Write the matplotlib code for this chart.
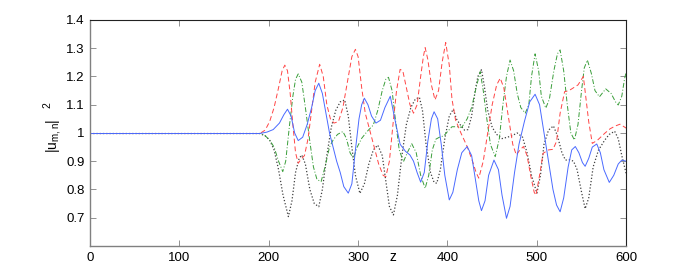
import matplotlib
matplotlib.use("Agg")
import matplotlib.pyplot as plt
from matplotlib.ticker import FormatStrFormatter
import numpy as np

plt.rcParams['font.family'] = ['Liberation Sans', 'DejaVu Sans']
plt.rcParams['mathtext.default'] = 'regular'

# values (z, |u|^2)
z_blue = [0, 190, 198, 205, 212, 217, 221, 225, 229, 233, 238, 243, 248, 252, 256, 260, 264, 268, 272, 276,
          280, 284, 289, 293, 297, 301, 304, 307, 311, 315, 320, 325, 330, 336, 341, 347, 353, 358, 362, 366,
          370, 374, 378, 382, 385, 389, 393, 397, 402, 406, 411, 416, 422, 427, 431, 435, 438, 442, 446, 452,
          457, 461, 466, 470, 475, 480, 486, 492, 498, 503, 508, 513, 518, 522, 526, 530, 535, 539, 543, 547,
          551, 554, 558, 562, 567, 571, 575, 581, 586, 591, 595, 600]
u_blue = [0.998, 0.998, 1.003, 1.012, 1.035, 1.065, 1.084, 1.06, 1.0, 0.973, 0.985, 1.03, 1.09, 1.15, 1.176, 1.14,
          1.07, 1.0, 0.95, 0.9, 0.86, 0.81, 0.787, 0.82, 0.94, 1.05, 1.1, 1.123, 1.1, 1.06, 1.035, 1.045, 1.09,
          1.13, 1.05, 0.96, 0.935, 0.922, 0.9, 0.86, 0.826, 0.86, 0.97, 1.05, 1.075, 1.05, 0.96, 0.85, 0.763,
          0.79, 0.87, 0.93, 0.952, 0.92, 0.84, 0.76, 0.725, 0.76, 0.85, 0.904, 0.87, 0.78, 0.698, 0.74, 0.86,
          0.96, 1.04, 1.11, 1.137, 1.1, 1.0, 0.9, 0.8, 0.745, 0.721, 0.77, 0.88, 0.94, 0.952, 0.93, 0.895,
          0.882, 0.91, 0.95, 0.961, 0.93, 0.87, 0.825, 0.85, 0.89, 0.904, 0.9]

z_red = [0, 190, 196, 201, 206, 211, 215, 218, 221, 224, 227, 230, 233, 237, 240, 244, 248, 252, 257, 261,
         265, 269, 273, 278, 283, 288, 293, 297, 300, 304, 308, 313, 318, 323, 328, 331, 335, 339, 343, 347,
         350, 354, 358, 362, 366, 370, 373, 375, 378, 382, 386, 390, 394, 398, 402, 405, 409, 415, 422, 428,
         432, 435, 440, 445, 450, 455, 459, 463, 468, 473, 477, 481, 485, 489, 493, 497, 499, 503, 507, 513,
         518, 522, 526, 531, 536, 541, 546, 552, 555, 558, 562, 568, 576, 582, 588, 593, 600]
u_red = [0.998, 0.998, 1.01, 1.04, 1.09, 1.16, 1.22, 1.24, 1.22, 1.14, 1.03, 0.93, 0.893, 0.91, 0.92, 0.98, 1.08,
         1.18, 1.243, 1.2, 1.1, 1.05, 1.035, 1.04, 1.09, 1.18, 1.27, 1.296, 1.27, 1.16, 1.07, 1.01, 0.95, 0.89,
         0.85, 0.845, 0.9, 1.03, 1.15, 1.225, 1.22, 1.16, 1.1, 1.07, 1.1, 1.2, 1.27, 1.302, 1.26, 1.17, 1.117,
         1.15, 1.25, 1.32, 1.24, 1.12, 1.046, 1.0, 0.952, 0.9, 0.86, 0.84, 0.9, 1.0, 1.1, 1.17, 1.194, 1.16,
         1.06, 0.96, 0.922, 0.94, 0.952, 0.92, 0.85, 0.79, 0.78, 0.85, 0.928, 0.94, 0.942, 0.97, 1.07, 1.146,
         1.15, 1.16, 1.17, 1.2, 1.12, 1.04, 0.963, 0.975, 0.999, 1.015, 1.025, 1.031, 1.017]

z_green = [0, 190, 196, 201, 206, 211, 215.7, 219, 223, 227, 230, 233, 237, 241, 246, 250, 254, 258.6, 263, 268,
           272, 277, 283, 287, 291, 294.7, 299, 304, 310, 317, 322, 327, 331, 334, 338, 342, 346, 350.7, 355,
           360, 365, 370, 375, 379, 383, 387, 391, 396, 400, 405, 411, 416, 422, 427, 432, 436.6, 440, 444, 448,
           453.4, 458, 462, 466, 470, 474, 478, 482, 487, 491, 494, 498, 502, 505, 510, 514, 519, 523, 526, 530,
           534, 538, 542, 546, 550, 553, 556.5, 561, 565, 570, 577, 583, 588, 591, 595, 598, 600]
u_green = [0.998, 0.998, 0.99, 0.975, 0.95, 0.9, 0.863, 0.9, 1.02, 1.13, 1.19, 1.209, 1.18, 1.09, 0.97, 0.88,
           0.835, 0.828, 0.88, 0.95, 0.975, 0.995, 1.005, 0.98, 0.93, 0.91, 0.95, 0.981, 1.005, 1.028, 1.08,
           1.15, 1.19, 1.197, 1.15, 1.04, 0.94, 0.898, 0.93, 0.962, 0.93, 0.85, 0.804, 0.85, 0.94, 0.978, 0.985,
           0.99, 1.005, 1.022, 1.022, 1.02, 1.05, 1.09, 1.16, 1.217, 1.15, 1.05, 0.96, 0.916, 0.98, 1.1, 1.2,
           1.258, 1.22, 1.14, 1.09, 1.07, 1.1, 1.2, 1.28, 1.22, 1.13, 1.088, 1.12, 1.22, 1.28, 1.294, 1.22,
           1.1, 1.0, 0.975, 1.03, 1.15, 1.23, 1.258, 1.21, 1.15, 1.128, 1.156, 1.14, 1.11, 1.099, 1.13, 1.19, 1.217]

z_black = [0, 190, 196, 201, 206, 211, 216, 222, 226, 230, 234, 237, 241, 246, 251, 256, 260, 265, 270, 275,
           280, 285, 289, 293, 297, 302, 307, 312, 317, 322, 327, 331, 335, 339.5, 344, 349, 354, 359, 364, 368.6,
           372, 376, 381, 385, 388, 392, 397, 402, 406.5, 410, 414, 419, 423, 427, 431, 434, 438, 441, 445, 450,
           455, 461, 467, 472, 478, 484, 489, 494, 500, 504, 508, 513, 518.5, 523, 528, 532, 537, 541, 545, 550,
           554, 558, 563, 569, 576, 581, 587, 591, 595, 600]
u_black = [0.998, 0.998, 0.99, 0.975, 0.94, 0.87, 0.78, 0.704, 0.76, 0.86, 0.91, 0.922, 0.89, 0.8, 0.75, 0.739,
           0.8, 0.92, 1.02, 1.08, 1.11, 1.117, 1.06, 0.95, 0.85, 0.786, 0.82, 0.89, 0.94, 0.957, 0.92, 0.83,
           0.74, 0.71, 0.78, 0.92, 1.03, 1.09, 1.12, 1.126, 1.08, 0.96, 0.86, 0.825, 0.822, 0.87, 0.98, 1.06,
           1.084, 1.05, 1.03, 1.01, 1.012, 1.06, 1.15, 1.2, 1.224, 1.17, 1.08, 1.02, 0.995, 0.98, 0.985, 0.99,
           1.0, 0.985, 0.93, 0.85, 0.787, 0.85, 0.96, 1.01, 1.025, 0.99, 0.93, 0.904, 0.905, 0.9, 0.87, 0.79,
           0.732, 0.77, 0.88, 0.94, 0.975, 0.995, 1.006, 0.98, 0.92, 0.855]

fig = plt.figure(figsize=(6.92, 2.77), dpi=100)
ax = fig.add_axes([0.130, 0.112, 0.775, 0.816])

ax.plot(z_black, u_black, color='#404040', linestyle=(0, (1, 1.6)), linewidth=0.9)
ax.plot(z_green, u_green, color='#3a9e3a', linestyle=(0, (5, 2, 1, 2)), linewidth=0.7)
ax.plot(z_red, u_red, color='#ff4545', linestyle=(0, (5, 3)), linewidth=0.7)
ax.plot(z_blue, u_blue, color='#4a6aff', linestyle='-', linewidth=0.7)

ax.set_xlim(0, 600)
ax.set_ylim(0.6, 1.4)
ax.set_xticks(np.arange(0, 601, 100))
ax.set_yticks(np.arange(0.7, 1.41, 0.1))
ax.yaxis.set_major_formatter(FormatStrFormatter('%g'))
ax.tick_params(direction='in', top=True, right=True, length=4, width=0.6,
               color='#808080', labelsize=9.5, pad=4)
for side in ['left', 'bottom']:
    ax.spines[side].set_linewidth(1.0)
    ax.spines[side].set_color('#808080')
for side in ['top', 'right']:
    ax.spines[side].set_linewidth(0.8)
    ax.spines[side].set_color('#222222')

# y label: |u_{m,n}| with a high superscript 2, as in the reference
fig.text(0.077, 0.51, r'$|u_{m,n}|$', rotation=90, ha='center', va='center', fontsize=10)
fig.text(0.068, 0.622, '2', rotation=90, ha='center', va='center', fontsize=7.5)
ax.annotate('z', xy=(339, 0), xycoords=('data', 'axes fraction'),
            xytext=(0, -8), textcoords='offset points', ha='center', va='center', fontsize=10)

fig.savefig('out.png', dpi=100)
